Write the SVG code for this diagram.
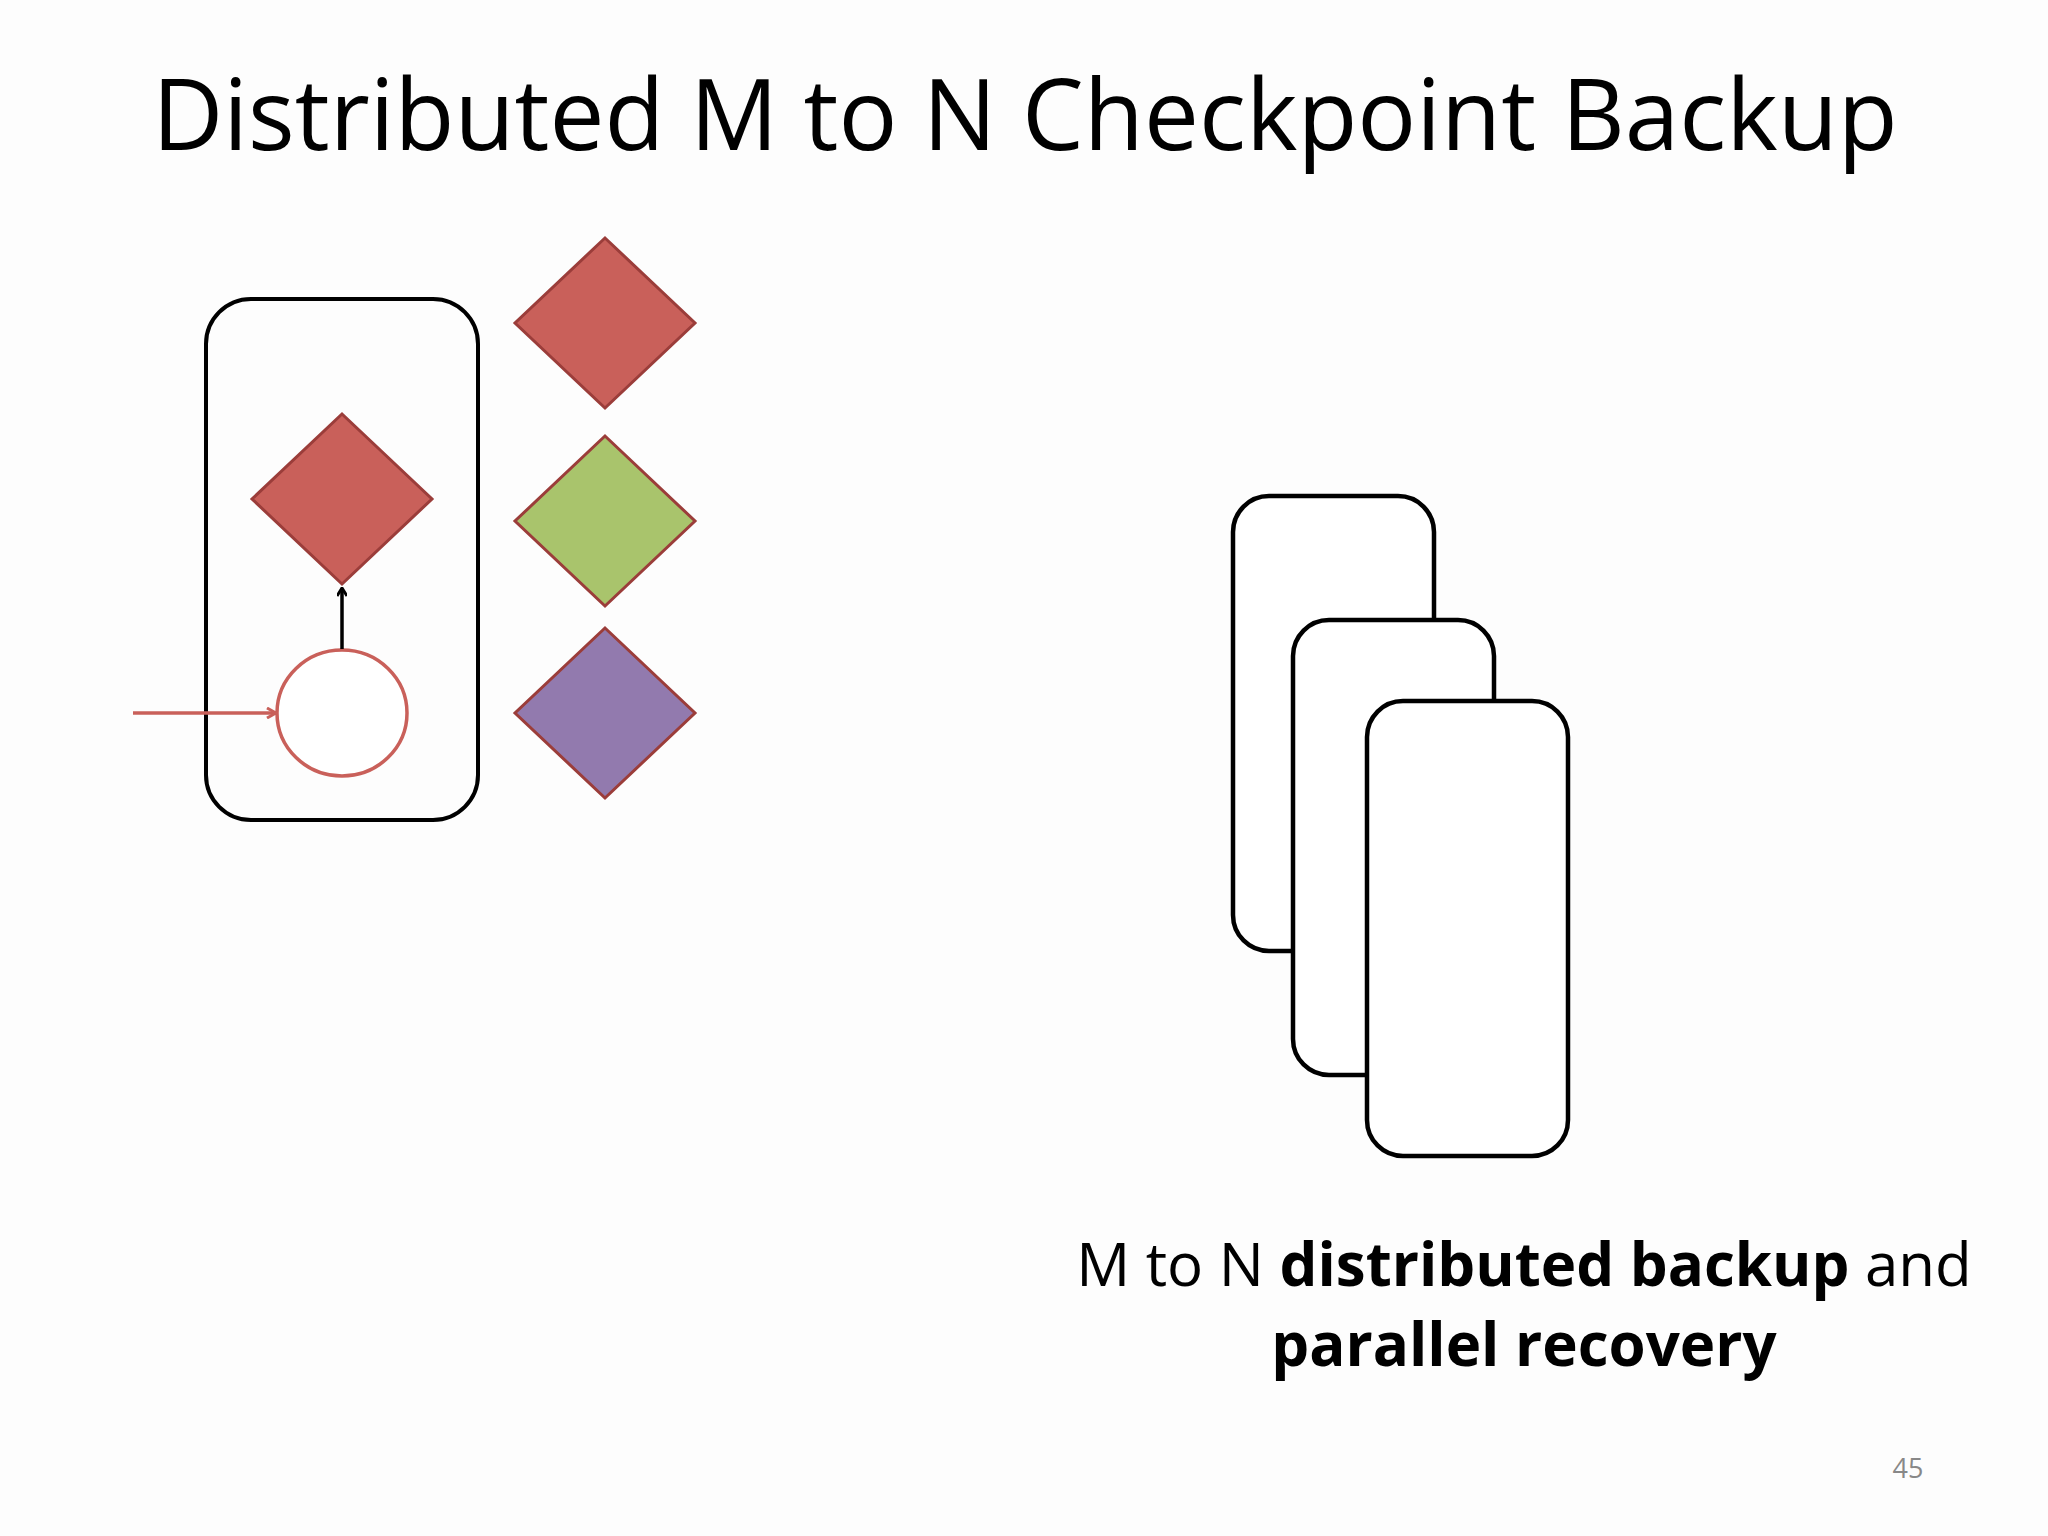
<svg xmlns="http://www.w3.org/2000/svg" width="2048" height="1536" viewBox="0 0 2048 1536">
<style>
.t{font-family:"Open Sans","DejaVu Sans",sans-serif;fill:#000}
.card{fill:#fff;stroke:#000;stroke-width:4.5}
.dia{stroke:#9b3d3a;stroke-width:3}
</style>
<defs>
<marker id="ab" markerWidth="10" markerHeight="10" refX="8" refY="5" orient="auto" markerUnits="userSpaceOnUse"><path d="M1,0 L9,5 L1,10" fill="none" stroke="#000" stroke-width="3"/></marker>
<marker id="ar" markerWidth="12" markerHeight="12" refX="10" refY="6" orient="auto" markerUnits="userSpaceOnUse"><path d="M1,1 L10,6 L1,11" fill="none" stroke="#c9605a" stroke-width="3"/></marker>
</defs>
<rect width="2048" height="1536" fill="#fdfdfd"/>
<text class="t" x="1025" y="150" font-size="98" text-anchor="middle">Distributed M to N Checkpoint Backup</text>
<g id="container"><rect x="206" y="299" width="272" height="521" rx="45" fill="none" stroke="#000" stroke-width="4"/></g>
<g id="inner-diamond"><polygon class="dia" points="342,414 432,499 342,584 252,499" fill="#c9605a"/></g>
<g id="circle"><ellipse cx="342" cy="713" rx="65" ry="63" fill="#fff" stroke="#c9605a" stroke-width="3.5"/></g>
<g id="diamond-red"><polygon class="dia" points="605,238 695,323 605,408 515,323" fill="#c9605a"/></g>
<g id="diamond-green"><polygon class="dia" points="605,436 695,521 605,606 515,521" fill="#a9c46c"/></g>
<g id="diamond-purple"><polygon class="dia" points="605,628 695,713 605,798 515,713" fill="#927aae"/></g>
<g id="connectors">
<line x1="342" y1="649" x2="342" y2="589" stroke="#000" stroke-width="3.5" marker-end="url(#ab)"/>
<line x1="133" y1="713" x2="276" y2="713" stroke="#c9605a" stroke-width="3.5" marker-end="url(#ar)"/>
</g>
<g id="card1"><rect class="card" x="1233" y="496" width="201" height="455" rx="36"/></g>
<g id="card2"><rect class="card" x="1293" y="620" width="201" height="455" rx="36"/></g>
<g id="card3"><rect class="card" x="1367" y="701" width="201" height="455" rx="36"/></g>
<text class="t" x="1524" y="1286" font-size="60" text-anchor="middle">M to N <tspan font-weight="bold">distributed backup</tspan> and</text>
<text class="t" x="1524" y="1366" font-size="60" text-anchor="middle" font-weight="bold">parallel recovery</text>
<text class="t" x="1908" y="1478" font-size="27" text-anchor="middle" style="fill:#888">45</text>
</svg>
